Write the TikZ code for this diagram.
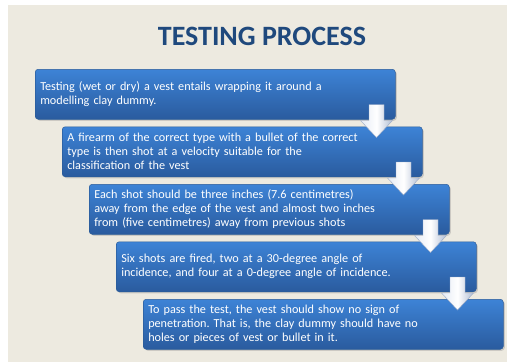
\documentclass[tikz,border=0pt]{standalone}
\usepackage{fontspec}
\setmainfont{Carlito}
\usepackage{tikz}
\usetikzlibrary{positioning}
\usetikzlibrary{shadows}
\tikzset{>=latex}
\frenchspacing

\definecolor{slidebg}{HTML}{EDEAE0}
\definecolor{titleblue}{HTML}{1F497D}
\definecolor{boxtop}{HTML}{3D83D6}
\definecolor{boxbot}{HTML}{2A5B9E}
\definecolor{boxline}{HTML}{2B5C99}
\definecolor{arrowlight}{HTML}{E4EAF4}
\definecolor{arrowdark}{HTML}{B0BDD4}
\definecolor{arrowline}{HTML}{9AA9C4}

\tikzset{
  stepbox/.style={draw=boxline, line width=0.5pt, rounded corners=3pt,
    top color=boxtop, bottom color=boxbot,
    minimum width=360pt, minimum height=50pt, text width=350pt,
    inner xsep=5pt, align=left, text=white,
    font=\fontsize{12.2}{14}\selectfont,
    drop shadow={shadow xshift=1.5pt, shadow yshift=-1.5pt, opacity=0.3}},
  downarrow/.style={draw=arrowline, line width=0.4pt, line join=round,
    left color=arrowlight, right color=arrowdark, middle color=white}
}

\begin{document}
\begin{tikzpicture}[x=1pt, y=1pt]
    % Fix the page and draw the slide background.
    \useasboundingbox (0, 0) rectangle (507, -362);
    \fill[slidebg] (8, -5) rectangle (507, -362);

    % Write the title.
    \node[text=titleblue, font=\fontsize{28}{32}\bfseries\selectfont] (title) at (262, -36) {TESTING PROCESS};

    % Draw the steps, each one shifted down and right.
    \node[stepbox, anchor=north west] (s1) at (35, -69)
      {Testing (wet or dry) a vest entails wrapping it around a\\ modelling clay dummy.};
    \node[stepbox, below right=7pt and 27pt of s1.south west] (s2)
      {A firearm of the correct type with a bullet of the correct\\ type is then shot at a velocity suitable for the\\ classification of the vest};
    \node[stepbox, below right=7pt and 27pt of s2.south west] (s3)
      {Each shot should be three inches (7.6 centimetres)\\ away from the edge of the vest and almost two inches\\ from (five centimetres) away from previous shots};
    \node[stepbox, below right=7pt and 27pt of s3.south west] (s4)
      {Six shots are fired, two at a 30-degree angle of\\ incidence, and four at a 0-degree angle of incidence.};
    \node[stepbox, below right=7pt and 27pt of s4.south west] (s5)
      {To pass the test, the vest should show no sign of\\ penetration. That is, the clay dummy should have no\\ holes or pieces of vest or bullet in it.};

    % Draw the block arrows between the steps.
    \foreach \i in {1,...,4} {
      \coordinate (a\i) at ([shift={(-19pt, 15pt)}]s\i.south east);
      \shade[downarrow] (a\i) ++(-7.5, 0) -- ++(15, 0) -- ++(0, -16)
        -- ++(8.5, 0) -- ++(-16, -17) -- ++(-16, 17) -- ++(8.5, 0) -- cycle;
    }
\end{tikzpicture}
\end{document}
